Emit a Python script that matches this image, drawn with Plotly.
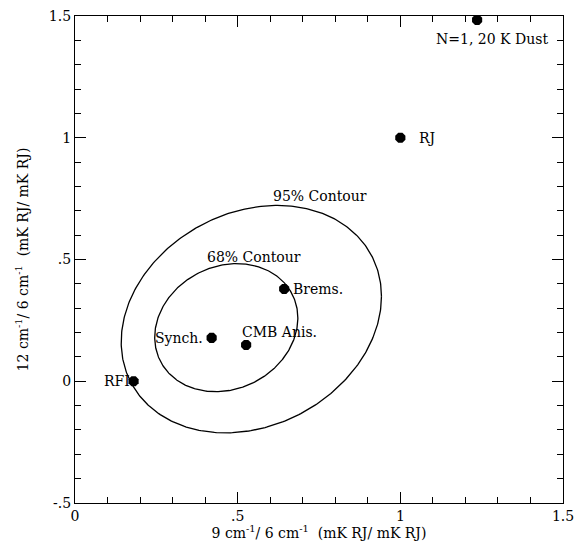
import numpy as np
import plotly.graph_objects as go

# ---- data ----
point_names = ["N=1, 20 K Dust", "RJ", "Brems.", "Synch.", "CMB Anis.", "RFI"]
point_x = [1.236, 1.0, 0.643, 0.42, 0.526, 0.18]
point_y = [1.484, 1.0, 0.379, 0.178, 0.149, 0.0]

contour_names = ["95% Contour", "68% Contour"]
contour_cx = [0.542, 0.465]
contour_cy = [0.255, 0.220]
contour_ax = [0.400, 0.220]
contour_ay = [0.467, 0.263]
contour_cosd = [0.20, 0.15]
contour_label_x = [0.753, 0.550]
contour_label_y = [0.762, 0.510]

x_tickvals = [0, 0.5, 1, 1.5]
x_ticktext = ["0", ".5", "1", "1.5"]
y_tickvals = [-0.5, 0, 0.5, 1, 1.5]
y_ticktext = ["-.5", "0", ".5", "1", "1.5"]

FONT = "DejaVu Serif"
FS = 14

fig = go.Figure()

t = np.linspace(0, 2 * np.pi, 400)
for name, cx, cy, ax_, ay_, cd in zip(contour_names, contour_cx, contour_cy,
                                       contour_ax, contour_ay, contour_cosd):
    d = np.arccos(cd)
    fig.add_trace(go.Scatter(x=cx + ax_ * np.cos(t), y=cy + ay_ * np.cos(t - d),
                             mode="lines", line=dict(color="black", width=1.3),
                             name=name, hoverinfo="skip"))

fig.add_trace(go.Scatter(x=point_x, y=point_y, mode="markers",
                         marker=dict(symbol="octagon", size=11, color="black"),
                         name="sources"))

# label offsets (pixels) relative to each point
offsets = {
    "N=1, 20 K Dust": ("center", 15, -19),
    "RJ": ("left", 17, 0),
    "Brems.": ("left", 7, 0),
    "Synch.": ("right", -7, 0),
    "CMB Anis.": ("left", -6, 13),
    "RFI": ("right", -2, 0),
}
for n, x, y in zip(point_names, point_x, point_y):
    anc, xs, ys = offsets[n]
    fig.add_annotation(x=x, y=y, text=n, showarrow=False, xanchor=anc,
                       xshift=xs, yshift=ys, font=dict(family=FONT, size=FS, color="black"))

for n, x, y in zip(contour_names, contour_label_x, contour_label_y):
    fig.add_annotation(x=x, y=y, text=n, showarrow=False,
                       font=dict(family=FONT, size=FS, color="black"))

axis_common = dict(showgrid=False, zeroline=False, showline=True, linecolor="black",
                   linewidth=1.3, mirror="ticks", ticks="inside", ticklen=11,
                   tickwidth=1.2, tickcolor="black", automargin=False,
                   ticklabeloverflow="allow",
                   tickfont=dict(family=FONT, size=FS, color="black"),
                   minor=dict(ticks="inside", ticklen=6, dtick=0.1,
                              tickcolor="black", tickwidth=1))

fig.update_xaxes(range=[0, 1.5], tickvals=x_tickvals, ticktext=x_ticktext,
                 title=dict(text="9 cm<sup>-1</sup>/ 6 cm<sup>-1</sup>  (mK RJ/ mK RJ)",
                            font=dict(family=FONT, size=FS, color="black"), standoff=7),
                 **axis_common)
fig.update_yaxes(range=[-0.5, 1.5], tickvals=y_tickvals, ticktext=y_ticktext,
                 title=dict(text="12 cm<sup>-1</sup>/ 6 cm<sup>-1</sup>  (mK RJ/ mK RJ)",
                            font=dict(family=FONT, size=FS, color="black"), standoff=16),
                 **axis_common)

fig.update_layout(width=575, height=541, showlegend=False,
                  paper_bgcolor="white", plot_bgcolor="white",
                  margin=dict(l=75, r=12, t=16, b=38))

fig.write_html("out.html", config={"displayModeBar": False},
               post_script="document.body.style.margin='0';"
                           "document.body.style.overflow='hidden';")
